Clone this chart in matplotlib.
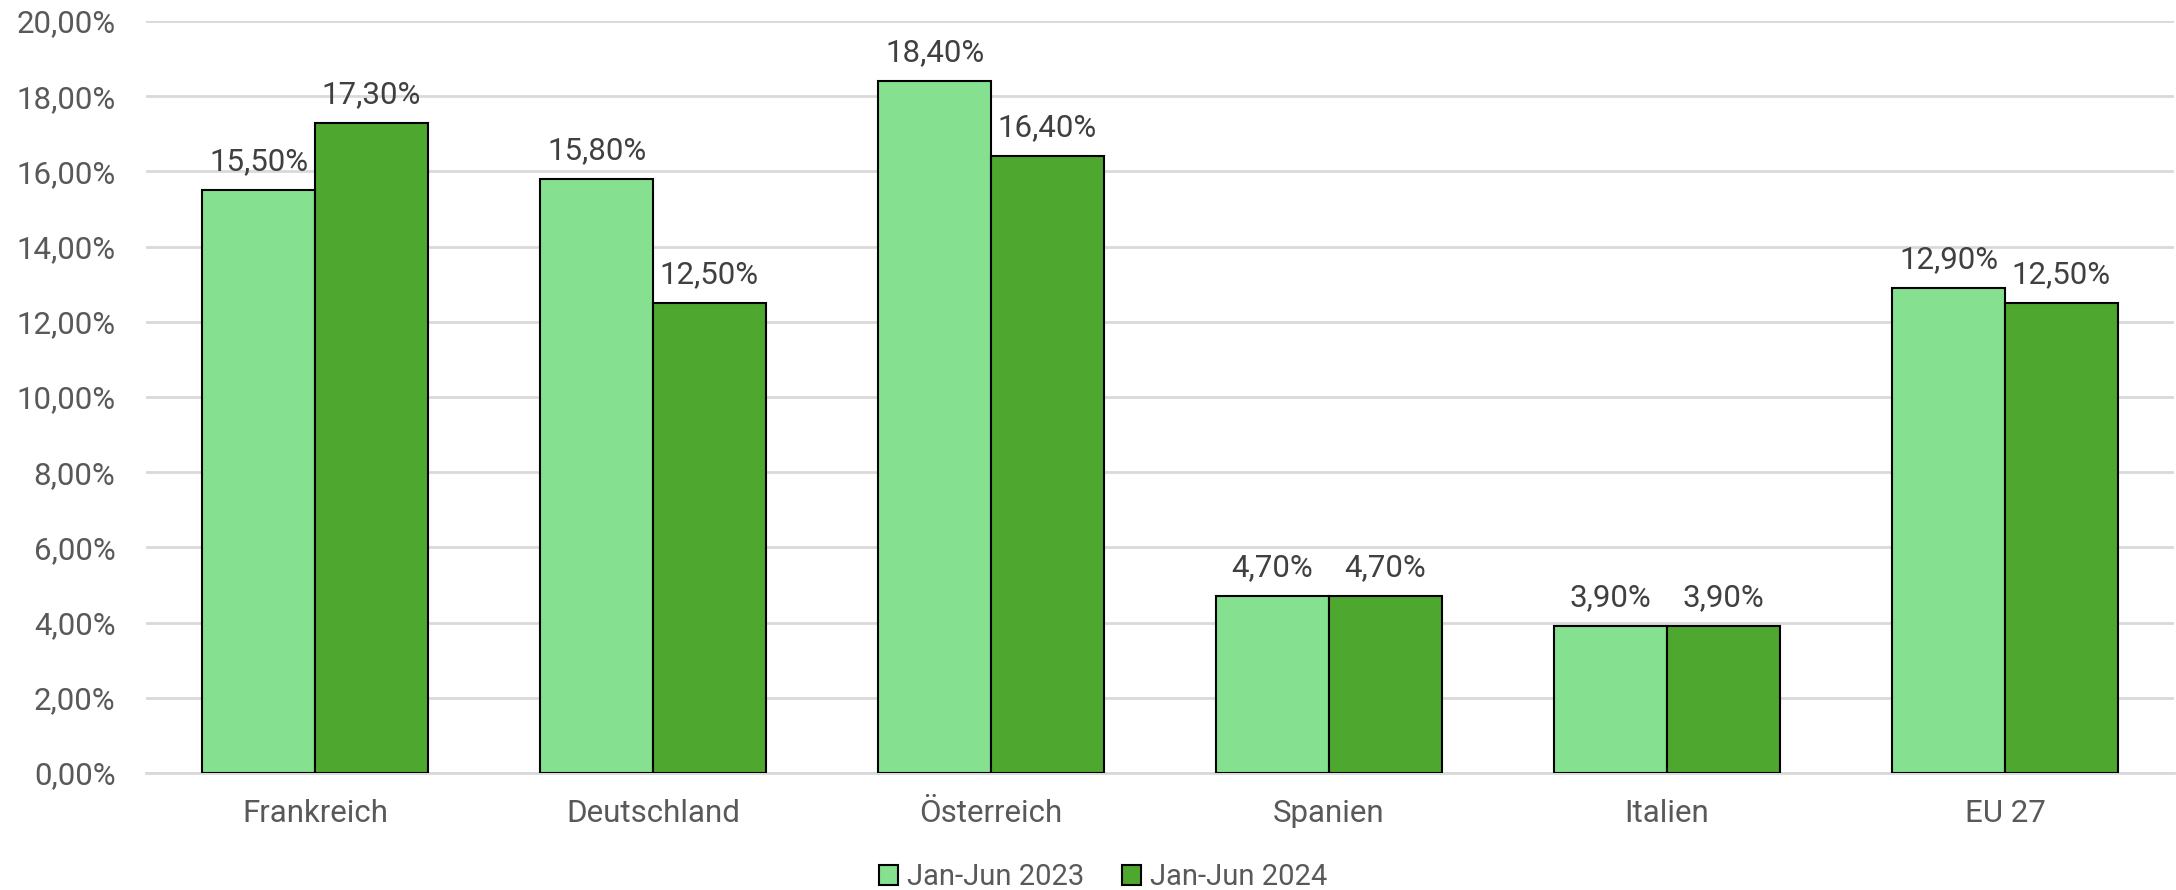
import matplotlib.pyplot as plt
import numpy as np
from matplotlib.ticker import FuncFormatter, MultipleLocator

# Data (values in percent)
categories = ['Frankreich', 'Deutschland', 'Österreich', 'Spanien', 'Italien', 'EU 27']
series_names = ['Jan-Jun 2023', 'Jan-Jun 2024']
vals_2023 = [15.5, 15.8, 18.4, 4.7, 3.9, 12.9]
vals_2024 = [17.3, 12.5, 16.4, 4.7, 3.9, 12.5]

plt.rcParams['font.family'] = ['Roboto', 'DejaVu Sans']

C_23 = '#85E08F'
C_24 = '#4EA72E'
C_TXT = '#595959'
C_LBL = '#404040'
C_GRID = '#D9D9D9'
FS = 22.5


def de_pct(v, _pos=None):
    return f'{v:.2f}%'.replace('.', ',')


fig = plt.figure(figsize=(21.76, 8.90), dpi=100)
ax = fig.add_axes([0.0671, 0.1315, 0.932, 0.8449])

x = np.arange(len(categories))
w = 0.334
b1 = ax.bar(x - w / 2, vals_2023, w, color=C_23, edgecolor='black', lw=1.5,
            label=series_names[0], zorder=3)
b2 = ax.bar(x + w / 2, vals_2024, w, color=C_24, edgecolor='black', lw=1.5,
            label=series_names[1], zorder=3)

for bars in (b1, b2):
    for r in bars:
        ax.annotate(de_pct(r.get_height()), (r.get_x() + r.get_width() / 2, r.get_height()),
                    xytext=(0, 10), textcoords='offset points', ha='center', va='bottom',
                    fontsize=FS, color=C_LBL)

ax.set_xlim(-0.5, len(categories) - 0.5)
ax.set_ylim(0, 20)
ax.yaxis.set_major_locator(MultipleLocator(2))
ax.yaxis.set_major_formatter(FuncFormatter(de_pct))
ax.set_xticks(x)
ax.set_xticklabels(categories)
ax.tick_params(axis='both', length=0, labelsize=FS, labelcolor=C_TXT)
ax.tick_params(axis='x', pad=19)
ax.tick_params(axis='y', pad=22)
ax.grid(axis='y', color=C_GRID, lw=2, zorder=0)
for s in ('top', 'right', 'left'):
    ax.spines[s].set_visible(False)
ax.spines['bottom'].set_color(C_GRID)
ax.spines['bottom'].set_linewidth(2)

fig.legend(handles=[b1, b2], loc='center', bbox_to_anchor=(0.507, 0.0146), ncol=2,
           frameon=False, fontsize=21, labelcolor=C_TXT, handlelength=0.66,
           handleheight=0.66, handletextpad=0.3, columnspacing=1.3,
           borderpad=0, borderaxespad=0)

fig.savefig('out.png', dpi=100)
